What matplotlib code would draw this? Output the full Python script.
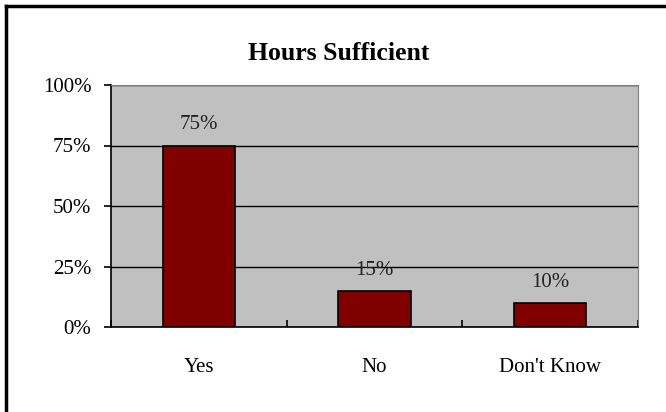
from matplotlib import pyplot as plt
from matplotlib.lines import Line2D

categories = ["Yes", "No", "Don't Know"]
values = [75, 15, 10]
yticks = [0, 25, 50, 75, 100]
title = "Hours Sufficient"

plt.rcParams['font.family'] = ['Liberation Serif', 'DejaVu Serif']

fig = plt.figure(figsize=(6.66, 4.12), dpi=100)
ax = fig.add_axes([111/666, 85/412, 527/666, 242/412])
ax.set_facecolor("#c0c0c0")

x = list(range(len(categories)))
ax.bar(x, values, width=0.41, color="#800000", edgecolor="black", linewidth=1.2, zorder=3)
for xi, v in zip(x, values):
    ax.annotate("{}%".format(v), (xi, v), xytext=(0, 8), textcoords="offset points",
                ha="center", va="bottom", fontsize=15, color="#222222")

ax.set_xlim(-0.5, len(categories) - 0.5)
ax.set_ylim(0, 100)
ax.set_yticks(yticks)
ax.set_yticklabels(["{}%".format(t) for t in yticks], fontsize=15)
ax.yaxis.grid(True, color="black", linewidth=1.0, zorder=1)
ax.set_axisbelow(True)
ax.tick_params(axis="y", direction="out", length=5, width=1.2, pad=9)

# category boundaries get ticks, labels sit on minor ticks
ax.set_xticks([i - 0.5 for i in range(len(categories) + 1)])
ax.set_xticklabels([])
ax.tick_params(axis="x", which="major", direction="in", length=5, width=1.2)
ax.set_xticks(x, minor=True)
ax.set_xticklabels(categories, minor=True, fontsize=15)
ax.tick_params(axis="x", which="minor", length=0, pad=22)

ax.spines["left"].set_color("black")
ax.spines["bottom"].set_color("black")
ax.spines["left"].set_linewidth(1.2)
ax.spines["bottom"].set_linewidth(1.2)
ax.spines["top"].set_color("#808080")
ax.spines["right"].set_color("#808080")

fig.text(339/666, 1 - 54/412, title, ha="center", va="center", fontsize=18.5, fontweight="bold")

# outer chart border (left and top edges visible)
fig.add_artist(Line2D([6/666, 6/666], [0, 1 - 5.5/412], color="black", linewidth=2.5, transform=fig.transFigure))
fig.add_artist(Line2D([6/666, 1], [1 - 5.5/412, 1 - 5.5/412], color="black", linewidth=2.5, transform=fig.transFigure))

fig.savefig("out.png", dpi=100)
